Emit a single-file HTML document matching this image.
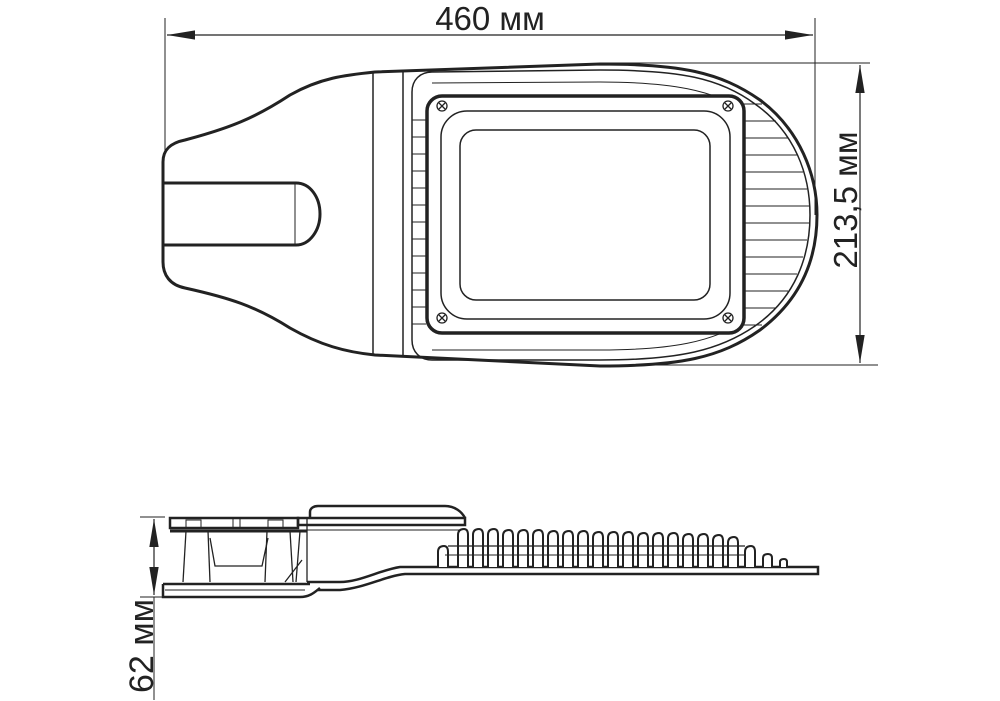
<!DOCTYPE html>
<html><head><meta charset="utf-8"><style>
html,body{margin:0;padding:0;background:#fff;}
svg{display:block;}
text{font-family:"Liberation Sans",sans-serif;fill:#222;}
</style></head><body>
<svg width="1000" height="701" viewBox="0 0 1000 701" xmlns="http://www.w3.org/2000/svg">
<defs>
<marker id="arL" viewBox="0 0 30 10" refX="30" refY="5" markerWidth="28" markerHeight="12" markerUnits="userSpaceOnUse" orient="auto-start-reverse"><path d="M0,0 L30,5 L0,10 z" fill="#222"/></marker>
</defs>
<g stroke="#222" fill="none">
<!-- dimension top -->
<line x1="165" y1="18" x2="165" y2="150" stroke-width="1"/>
<line x1="815" y1="18" x2="815" y2="215" stroke-width="1"/>
<line x1="167" y1="35" x2="813" y2="35" stroke-width="1.2" marker-end="url(#arL)" marker-start="url(#arL)"/>
<!-- dimension right -->
<line x1="600" y1="63" x2="870" y2="63" stroke-width="1"/>
<line x1="600" y1="365" x2="878" y2="365" stroke-width="1"/>
<line x1="860" y1="65" x2="860" y2="363" stroke-width="1.2" marker-end="url(#arL)" marker-start="url(#arL)"/>
<!-- dimension side -->
<line x1="140" y1="517" x2="165" y2="517" stroke-width="1"/>
<line x1="140" y1="597" x2="165" y2="597" stroke-width="1"/>
<line x1="154" y1="597" x2="154" y2="700" stroke-width="1"/>
<line x1="154" y1="519" x2="154" y2="595" stroke-width="1.2" marker-end="url(#arL)" marker-start="url(#arL)"/>

<!-- top view outer body -->
<path d="M185,140 C230,128 255,118 290,95 C320,78 345,75 375,72 L600,64 C680,64 720,72 760,100 C800,130 817,175 817,215 C817,260 800,300 760,330 C720,358 680,366 600,366 L375,355 C345,352 320,345 290,328 C255,306 230,298 185,288 C170,285 163,275 163,262 L163,162 C163,150 170,143 185,140 Z" stroke-width="3"/>
<line x1="373" y1="72" x2="373" y2="355" stroke-width="1.5"/>
<line x1="403" y1="71" x2="403" y2="357" stroke-width="1.5"/>
<!-- inner plate -->
<path d="M432,72 L600,70 C680,70 720,78 755,104 C795,132 810,175 810,215 C810,257 795,298 755,326 C720,350 680,360 600,360 L432,360 C420,360 412,352 412,340 L412,92 C412,80 420,72 432,72 Z" stroke-width="1.5"/>
<path d="M432,83 L600,82 C670,82 715,90 745,112" stroke-width="1"/>
<path d="M745,320 C715,342 670,350 600,350 L432,350" stroke-width="1"/>
<!-- ribs left -->
<g stroke-width="1">
<line x1="412" y1="96" x2="412" y2="335"/>
<line x1="412" y1="120" x2="426" y2="120"/><line x1="412" y1="137" x2="426" y2="137"/><line x1="412" y1="154" x2="426" y2="154"/><line x1="412" y1="171" x2="426" y2="171"/><line x1="412" y1="188" x2="426" y2="188"/><line x1="412" y1="205" x2="426" y2="205"/><line x1="412" y1="222" x2="426" y2="222"/><line x1="412" y1="239" x2="426" y2="239"/><line x1="412" y1="256" x2="426" y2="256"/><line x1="412" y1="273" x2="426" y2="273"/><line x1="412" y1="290" x2="426" y2="290"/><line x1="412" y1="307" x2="426" y2="307"/><line x1="412" y1="324" x2="426" y2="324"/>
</g>
<!-- ribs right -->
<g stroke-width="1">
<line x1="744" y1="104" x2="762" y2="104"/><line x1="744" y1="121" x2="776" y2="121"/><line x1="744" y1="138" x2="788" y2="138"/><line x1="744" y1="155" x2="797" y2="155"/><line x1="744" y1="172" x2="803" y2="172"/><line x1="744" y1="189" x2="807" y2="189"/><line x1="744" y1="206" x2="809" y2="206"/><line x1="744" y1="223" x2="809" y2="223"/><line x1="744" y1="240" x2="807" y2="240"/><line x1="744" y1="257" x2="803" y2="257"/><line x1="744" y1="274" x2="797" y2="274"/><line x1="744" y1="291" x2="788" y2="291"/><line x1="744" y1="308" x2="776" y2="308"/><line x1="744" y1="325" x2="762" y2="325"/>
</g>
<!-- frame -->
<rect x="427" y="96" width="317" height="237" rx="15" stroke-width="3.5" fill="#fff"/>
<rect x="441" y="111" width="289" height="208" rx="26" stroke-width="1.5"/>
<rect x="460" y="130" width="250" height="170" rx="16" stroke-width="1.5"/>
<!-- screws -->
<g stroke-width="1.3">
<circle cx="442" cy="106" r="5"/><path d="M439,103 l6,6 M445,103 l-6,6"/>
<circle cx="728" cy="106" r="5"/><path d="M725,103 l6,6 M731,103 l-6,6"/>
<circle cx="442" cy="318" r="5"/><path d="M439,315 l6,6 M445,315 l-6,6"/>
<circle cx="728" cy="318" r="5"/><path d="M725,315 l6,6 M731,315 l-6,6"/>
</g>
<!-- handle -->
<path d="M164,183 L296,183 C310,183 320,197 320,214 C320,230 310,245 296,245 L164,245" stroke-width="3"/>
<line x1="295" y1="183" x2="295" y2="245" stroke-width="1"/>

<!-- side view -->
<path d="M310,518 L310,512 C310,508 314,506 318,506 L445,506 C455,506 462,512 465,518" stroke-width="2.5"/>
<rect x="298" y="518" width="167" height="7" stroke-width="2.5"/>
<line x1="298" y1="530" x2="465" y2="530" stroke-width="1"/>
<rect x="170" y="518" width="128" height="10" stroke-width="2.5"/>
<line x1="170" y1="531" x2="307" y2="531" stroke-width="3"/>
<rect x="186" y="520" width="15" height="8" stroke-width="1"/>
<rect x="268" y="520" width="15" height="8" stroke-width="1"/>
<line x1="233" y1="518" x2="233" y2="528" stroke-width="1"/>
<line x1="240" y1="518" x2="240" y2="528" stroke-width="1"/>
<g stroke-width="1.3">
<path d="M186,531 L183,582"/><path d="M208,531 L210,582"/>
<path d="M210,538 L215,566 L262,566 L268,538"/>
<path d="M267,531 L265,582"/><path d="M290,531 L293,582"/>
<path d="M300,531 L296,582"/><path d="M302,560 L285,582"/>
<line x1="307" y1="518" x2="307" y2="582"/>
</g>
<path d="M163,584 L310,584 M163,584 L163,597 L300,597 C310,597 315,592 320,588" stroke-width="2.5"/>
<line x1="165" y1="590" x2="305" y2="590" stroke-width="1"/>
<path d="M307,582 L340,582 C360,582 380,570 400,567 L818,567 L818,574 L405,574 C385,576 365,588 340,590 L318,590" stroke-width="2.5"/>
<g stroke-width="2" fill="#fff">
<path d="M438,567 L438,552 Q438,546 444,546 Q448,546 448,552 L448,567"/>
<path d="M458,567 L458,535 Q458,529 464,529 Q468,529 468,535 L468,567"/>
<path d="M473,567 L473,535 Q473,529 479,529 Q483,529 483,535 L483,567"/>
<path d="M488,567 L488,535 Q488,529 494,529 Q498,529 498,535 L498,567"/>
<path d="M503,567 L503,536 Q503,530 509,530 Q513,530 513,536 L513,567"/>
<path d="M518,567 L518,536 Q518,530 524,530 Q528,530 528,536 L528,567"/>
<path d="M533,567 L533,536 Q533,530 539,530 Q543,530 543,536 L543,567"/>
<path d="M548,567 L548,537 Q548,531 554,531 Q558,531 558,537 L558,567"/>
<path d="M563,567 L563,537 Q563,531 569,531 Q573,531 573,537 L573,567"/>
<path d="M578,567 L578,537 Q578,531 584,531 Q588,531 588,537 L588,567"/>
<path d="M593,567 L593,538 Q593,532 599,532 Q603,532 603,538 L603,567"/>
<path d="M608,567 L608,538 Q608,532 614,532 Q618,532 618,538 L618,567"/>
<path d="M623,567 L623,538 Q623,532 629,532 Q633,532 633,538 L633,567"/>
<path d="M638,567 L638,539 Q638,533 644,533 Q648,533 648,539 L648,567"/>
<path d="M653,567 L653,539 Q653,533 659,533 Q663,533 663,539 L663,567"/>
<path d="M668,567 L668,539 Q668,533 674,533 Q678,533 678,539 L678,567"/>
<path d="M683,567 L683,540 Q683,534 689,534 Q693,534 693,540 L693,567"/>
<path d="M698,567 L698,540 Q698,534 704,534 Q708,534 708,540 L708,567"/>
<path d="M713,567 L713,541 Q713,535 719,535 Q723,535 723,541 L723,567"/>
<path d="M728,567 L728,543 Q728,537 734,537 Q738,537 738,543 L738,567"/>
<path d="M745,567 L745,552 Q745,546 751,546 Q755,546 755,552 L755,567"/>
<path d="M763,567 L763,558 Q763,554 768,554 Q772,554 772,558 L772,567"/>
<path d="M780,567 L780,562 Q780,559 784,559 Q787,559 787,562 L787,567"/>
</g>
<line x1="448" y1="546" x2="745" y2="546" stroke-width="1.2"/>
<line x1="445" y1="555" x2="745" y2="555" stroke-width="1"/>
</g>
<text x="490" y="30" font-size="33" text-anchor="middle">460 мм</text>
<text transform="translate(857,200) rotate(-90)" font-size="33" text-anchor="middle">213,5 мм</text>
<text transform="translate(153,646) rotate(-90)" font-size="34" text-anchor="middle">62 мм</text>
</svg>
</body></html>
